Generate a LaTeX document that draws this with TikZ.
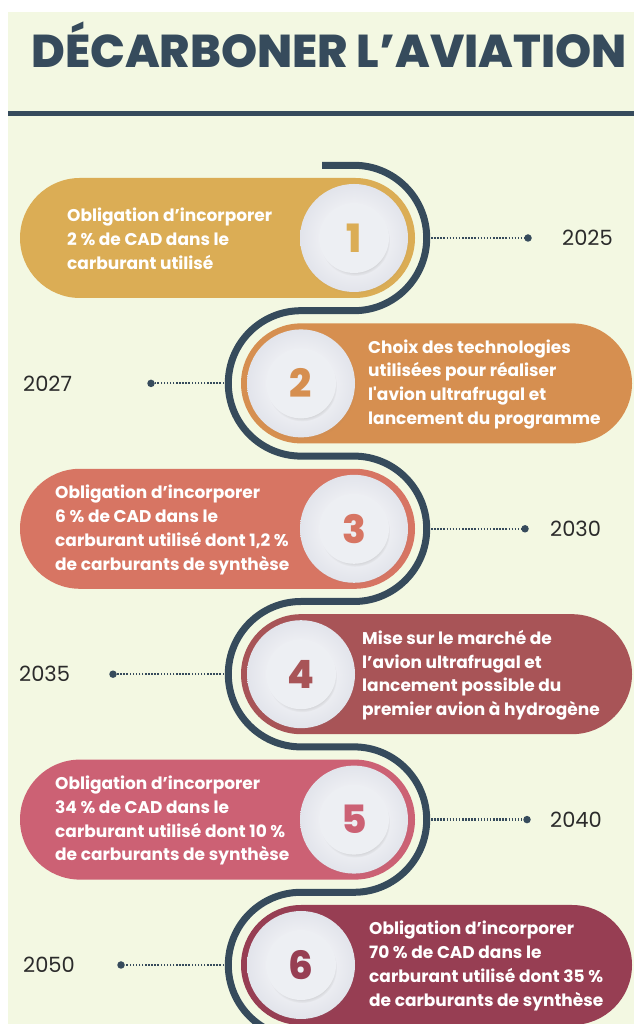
\documentclass[tikz,border=0pt]{standalone}
\usepackage{fontspec}
\usepackage{tikz}
\usetikzlibrary{positioning}
\usetikzlibrary{shadows}
\setmainfont{Poppins}
\newfontfamily\headfont{Poppins ExtraBold}
\newfontfamily\boxfont{Poppins Bold}
\definecolor{slate}{HTML}{364B5C}
\definecolor{paper}{HTML}{F3F8E2}
\definecolor{ink}{HTML}{2B2B2B}
\definecolor{step1}{HTML}{DBAD55}
\definecolor{step2}{HTML}{D68F50}
\definecolor{step3}{HTML}{D77563}
\definecolor{step4}{HTML}{A85457}
\definecolor{step5}{HTML}{CC6174}
\definecolor{step6}{HTML}{973E53}
\definecolor{discedge}{HTML}{E2E4EB}
\definecolor{hubfill}{HTML}{EDEFF3}

\begin{document}
\begin{tikzpicture}
	    [x=1pt, y=1pt,
	    pill/.style={rounded corners=60pt},
	    track/.style={slate, line width=7pt},
	    plate/.style={circle, minimum size=108pt, inner sep=0pt, shade, inner color=white, outer color=discedge,
	        circular drop shadow={shadow xshift=1pt, shadow yshift=-2pt, shadow scale=1.01, opacity=0.15}},
	    hub/.style={circle, minimum size=70pt, inner sep=0pt, fill=hubfill,
	        circular drop shadow={shadow xshift=1pt, shadow yshift=-3pt, shadow scale=1.0, opacity=0.3},
	        font=\headfont\fontsize{39}{39}\selectfont},
	    blurb/.style={anchor=west, align=left, inner sep=0pt, text=white, font=\boxfont\fontsize{17}{23.8}\selectfont},
	    bead/.style={circle, fill=slate, minimum size=7.5pt, inner sep=0pt},
	    leader/.style={slate, line width=2.2pt, dash pattern=on 1.5pt off 1.6pt},
	    yearlabel/.style={anchor=west, inner sep=0pt, text=ink, font=\fontsize{21}{21}\selectfont},
	    heading/.style={text=slate, inner sep=0pt, font=\headfont\fontsize{46}{46}\selectfont}]
	     % page and header
	     \useasboundingbox (0,0) rectangle (634,1024);
	     \fill[white] (0,0) rectangle (634,1024);
	     \fill[paper] (8,0) rectangle (634,1012);
	     \node[heading] (T) at (329,979) {DÉCARBONER L’AVIATION};
	     \draw[slate, line width=5pt] (8,910.5) -- (634,910.5);
	     % winding line
	     \draw[track] (322,858.7) -- (354,858.7)
	         arc[start angle=90, end angle=-90, radius=72.7] -- (301,713.3)
	         arc[start angle=90, end angle=270, radius=72.7] -- (354,567.9)
	         arc[start angle=90, end angle=-90, radius=72.7] -- (301,422.5)
	         arc[start angle=90, end angle=270, radius=72.7] -- (354,277.1)
	         arc[start angle=90, end angle=-90, radius=72.7] -- (301,131.7)
	         arc[start angle=90, end angle=270, radius=72.7];
	     \coordinate (L1) at (431,786);
	     \coordinate (L2) at (224,640.6);
	     \coordinate (L3) at (431,495.2);
	     \coordinate (L4) at (224,349.8);
	     \coordinate (L5) at (431,204.4);
	     \coordinate (L6) at (224,59);
	     % bands
	     \fill[step1, pill] (20,726) rectangle (415,846);
	     \fill[step2, pill] (241,580.6) rectangle (632,700.6);
	     \fill[step3, pill] (20,435.2) rectangle (415,555.2);
	     \fill[step4, pill] (241,289.8) rectangle (632,409.8);
	     \fill[step5, pill] (20,144.4) rectangle (415,264.4);
	     \fill[step6, pill] (241,-1) rectangle (632,119);
	     % numbered plates
	     \node[plate] (C1) at (354,786) {};
	     \node[plate] (C2) at (301,640.6) {};
	     \node[plate] (C3) at (354,495.2) {};
	     \node[plate] (C4) at (301,349.8) {};
	     \node[plate] (C5) at (354,204.4) {};
	     \node[plate] (C6) at (301,59) {};
	     \node[hub, text=step1] (H1) at (C1) {1};
	     \node[hub, text=step2] (H2) at (C2) {2};
	     \node[hub, text=step3] (H3) at (C3) {3};
	     \node[hub, text=step4] (H4) at (C4) {4};
	     \node[hub, text=step5] (H5) at (C5) {5};
	     \node[hub, text=step6] (H6) at (C6) {6};
	     % milestones
	     \node[blurb] (N1) at (67,785) {Obligation d’incorporer\\2 \% de CAD dans le\\carburant utilisé};
	     \node[blurb] (N2) at (368,639.6) {Choix des technologies\\utilisées pour réaliser\\l\textquotesingle avion ultrafrugal et\\lancement du programme};
	     \node[blurb] (N3) at (55,494.2) {Obligation d’incorporer\\6 \% de CAD dans le\\carburant utilisé dont 1,2 \%\\de carburants de synthèse};
	     \node[blurb] (N4) at (362,348.8) {Mise sur le marché de\\l’avion ultrafrugal et\\lancement possible du\\premier avion à hydrogène};
	     \node[blurb] (N5) at (55,203.4) {Obligation d’incorporer\\34 \% de CAD dans le\\carburant utilisé dont 10 \%\\de carburants de synthèse};
	     \node[blurb] (N6) at (369,58) {Obligation d’incorporer\\70 \% de CAD dans le\\carburant utilisé dont 35 \%\\de carburants de synthèse};
	     % years
	     \node[bead] (D1) at (528,786) {};
	     \node[bead] (D2) at (151,640.6) {};
	     \node[bead] (D3) at (525,495.2) {};
	     \node[bead] (D4) at (113,349.8) {};
	     \node[bead] (D5) at (527,204.4) {};
	     \node[bead] (D6) at (121,59) {};
	     \draw[leader] (L1) -- (D1);
	     \draw[leader] (L2) -- (D2);
	     \draw[leader] (L3) -- (D3);
	     \draw[leader] (L4) -- (D4);
	     \draw[leader] (L5) -- (D5);
	     \draw[leader] (L6) -- (D6);
	     \node[yearlabel] (Y1) at (562,786) {2025};
	     \node[yearlabel] (Y2) at (23,640.6) {2027};
	     \node[yearlabel] (Y3) at (550,495.2) {2030};
	     \node[yearlabel] (Y4) at (19,349.8) {2035};
	     \node[yearlabel] (Y5) at (550,204.4) {2040};
	     \node[yearlabel] (Y6) at (23,59) {2050};
	\end{tikzpicture}
\end{document}
